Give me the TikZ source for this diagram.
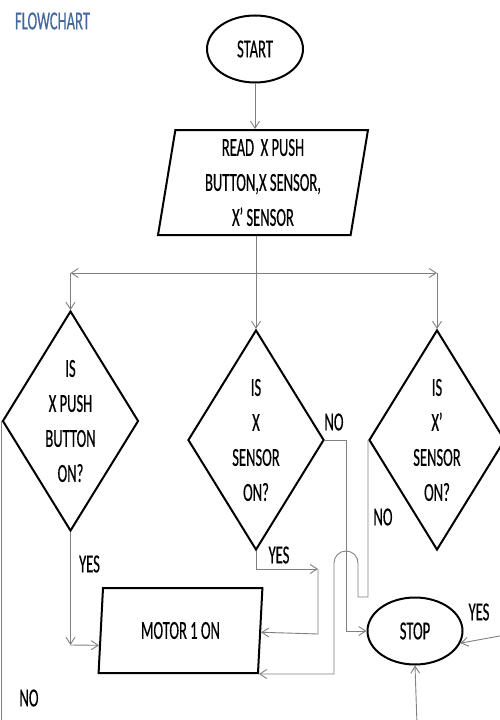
\documentclass[tikz,border=0pt]{standalone}
\usepackage{fontspec}
\setmainfont[FakeStretch=0.56,FakeBold=0.4]{Carlito}
\usetikzlibrary{shapes.geometric,arrows.meta,calc}
\definecolor{titleblue}{RGB}{68,104,156}
\definecolor{conngray}{RGB}{128,128,128}
\begin{document}
\begin{tikzpicture}[x=1pt,y=-1pt,
  txt/.style={font=\fontsize{26}{35}\selectfont, align=center, inner sep=0pt},
  shapeline/.style={draw=black, line width=2pt},
  decision/.style={shapeline, diamond, aspect=0.618, minimum width=136pt, minimum height=220pt, txt},
  terminal/.style={shapeline, ellipse, minimum width=96pt, minimum height=67pt, txt},
  io/.style={shapeline, trapezium, trapezium left angle=82.5, trapezium right angle=97.5, trapezium stretches=true, txt},
  conn/.style={draw=conngray, line width=0.9pt},
  arr/.style={conn, -{Straight Barb[length=7pt,width=9pt]}},
  lab/.style={txt}
]
\useasboundingbox (0,0) rectangle (499,720);

\node[lab, text=titleblue] (title) at (52.5,21) {FLOWCHART};

\node[terminal] (start) at (255,49) {START};
\node[io, minimum width=210pt, minimum height=105pt] (read) at (263,182.5) {READ~~X PUSH\\BUTTON,X SENSOR,\\X’ SENSOR};

\node[decision] (left) at (70.5,421) {IS\\X PUSH\\BUTTON\\ON?};
\node[decision] (mid) at (256,440) {IS\\X\\SENSOR\\ON?};
\node[decision] (right) at (437,440) {IS\\X’\\SENSOR\\ON?};

\node[io, minimum width=165pt, minimum height=85pt] (motor) at (180.5,630.5) {MOTOR 1 ON};
\node[terminal, minimum width=95pt] (stop) at (415,631) {STOP};

% labels
\node[lab] (yesL) at (89.5,564) {YES};
\node[lab] (yesM) at (279,555) {YES};
\node[lab] (noM) at (334,422) {NO};
\node[lab] (noR) at (383,517) {NO};
\node[lab] (noL) at (29,698) {NO};
\node[lab] (yesS) at (479,612) {YES};

% coordinates
\coordinate (junc) at (256,273);
\coordinate (bottomline) at (0,725);
\coordinate (lyes) at (70.5,645);
\coordinate (myes) at (318,569);
\coordinate (myes2) at (318,634);
\coordinate (mno) at (346,440);
\coordinate (hopR) at (358,597);
\coordinate (hopL) at (334,563);
\coordinate (syes) at (505,635);
\coordinate (sbot) at (417,725);
\coordinate (mlin) at ($(motor.bottom left corner)!0.33!(motor.top left corner)$);
\coordinate (mrin) at ($(motor.bottom right corner)!0.48!(motor.top right corner)$);

% connectors
\draw[arr] (start.south) -- (start.south |- read.north);
\draw[arr] (junc |- read.south) -- (mid.north);
\draw[arr] (junc) -- (left.north |- junc);
\draw[arr] (left.north |- junc) -- (left.north);
\draw[arr] (junc) -- (right.north |- junc);
\draw[arr] (right.north |- junc) -- (right.north);

\draw[arr] (left.south) -- (lyes);
\draw[arr] (lyes) -- (mlin);
\draw[conn] (left.west) -- (left.west |- bottomline);

\draw[arr] (mid.south) |- (myes);
\draw[arr] (myes) -- (myes2) -- (mrin);
\draw[arr] (mid.east) -- (mno) |- (stop.west);

\draw[arr] (right.west) |- (hopR) -- ++(0,-34) arc[start angle=0, end angle=-180, radius=12] -- (hopL |- motor.bottom right corner) -- (motor.bottom right corner);

\draw[arr] (syes) -- (stop.345);
\draw[arr] (sbot) -- (stop.south);
\end{tikzpicture}
\end{document}
